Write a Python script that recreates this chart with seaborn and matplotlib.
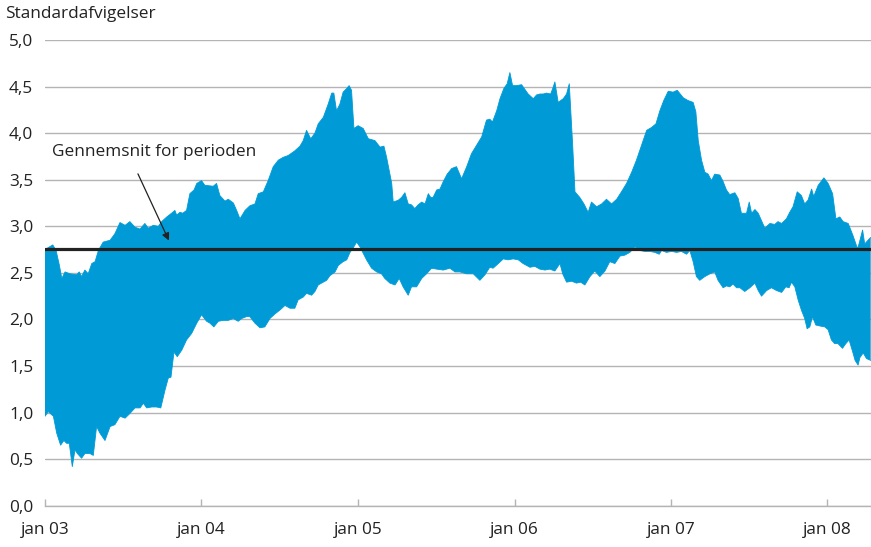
import matplotlib
matplotlib.use("Agg")
import matplotlib.pyplot as plt
import numpy as np
import pandas as pd
import seaborn as sns

# weeks after 1 Jan 2003 and the read-off band edges (standard deviations)
upper_weeks = [
    0, 2.6, 3.7, 4.8, 5.6, 6.7, 8.3, 10.6, 11.4, 12.2, 13.3, 14.4, 15.6, 16.7,
    17.8, 19.4, 21.7, 23.3, 25.0, 26.7, 28.3, 30.0, 31.7, 33.3, 34.4, 36.1,
    37.8, 38.9, 40.6, 42.2, 43.3, 43.9, 45.0, 45.9, 47.2, 48.3, 49.7, 50.6,
    52.2, 53.3, 56.1, 57.2, 58.3, 60.0, 61.1, 62.8, 63.9, 65.0, 66.7, 68.3,
    70.0, 71.1, 72.8, 74.4, 76.1, 77.8, 79.4, 81.1, 83.3, 85.0, 86.1, 87.2,
    88.6, 90.0, 91.1, 92.8, 94.4, 95.6, 96.3, 97.2, 98.3, 99.4, 100.6, 101.4,
    102.2, 103.0, 104.4, 106.1, 107.8, 110.0, 111.7, 113.0, 113.9, 115.0,
    115.6, 116.1, 117.8, 118.9, 120.0, 121.1, 122.2, 123.3, 124.4, 125.6,
    126.7, 127.8, 128.6, 129.4, 130.6, 131.7, 132.8, 134.1, 135.6, 137.2,
    138.9, 140.6, 142.2, 143.9, 145.6, 147.2, 148.3, 149.2, 150.6, 151.7,
    153.0, 154.1, 155.0, 155.9, 157.2, 158.9, 161.1, 162.8, 163.9, 165.0,
    166.1, 167.2, 168.6, 169.4, 170.0, 171.1, 172.8, 173.9, 174.8, 175.9,
    176.7, 178.3, 179.7, 181.1, 182.2, 183.9, 185.6, 187.2, 188.9, 190.6,
    192.2, 193.9, 195.6, 197.2, 198.9, 200.6, 202.2, 203.7, 205.0, 206.3,
    207.8, 209.4, 210.8, 212.8, 214.4, 216.1, 217.0, 217.8, 218.9, 220.0,
    221.1, 222.2, 223.3, 225.0, 226.1, 227.2, 228.3, 230.0, 231.1, 232.2,
    233.9, 234.8, 235.6, 236.7, 237.8, 238.9, 240.0, 241.7, 243.3, 244.4,
    245.6, 247.2, 248.3, 249.4, 250.8, 252.2, 253.3, 254.4, 255.6, 256.3,
    257.8, 259.7, 261.1, 262.6, 263.7, 265.0, 266.1, 267.8, 269.4, 270.9,
    271.4, 272.6, 273.3, 274.4, 275.3,
]
upper_values = [
    2.75, 2.80, 2.74, 2.58, 2.44, 2.51, 2.49, 2.48, 2.51, 2.46, 2.53, 2.49,
    2.60, 2.62, 2.74, 2.83, 2.85, 2.92, 3.04, 3.01, 3.05, 2.99, 2.97, 3.03,
    2.98, 3.01, 3.00, 3.05, 3.10, 3.14, 3.17, 3.12, 3.15, 3.14, 3.17, 3.35,
    3.39, 3.46, 3.49, 3.44, 3.43, 3.46, 3.33, 3.27, 3.29, 3.25, 3.17, 3.08,
    3.17, 3.22, 3.24, 3.35, 3.37, 3.49, 3.64, 3.71, 3.74, 3.76, 3.81, 3.86,
    3.92, 4.03, 3.94, 4.00, 4.10, 4.17, 4.31, 4.43, 4.43, 4.24, 4.31, 4.44,
    4.48, 4.51, 4.46, 4.05, 4.08, 4.05, 3.94, 3.92, 3.85, 3.86, 3.74, 3.56,
    3.46, 3.26, 3.28, 3.31, 3.36, 3.24, 3.23, 3.19, 3.23, 3.26, 3.24, 3.35,
    3.31, 3.31, 3.39, 3.40, 3.48, 3.56, 3.62, 3.64, 3.51, 3.64, 3.78, 3.87,
    3.96, 4.14, 4.15, 4.12, 4.24, 4.37, 4.48, 4.53, 4.65, 4.51, 4.51, 4.52,
    4.42, 4.37, 4.41, 4.42, 4.42, 4.43, 4.42, 4.49, 4.55, 4.33, 4.37, 4.42,
    4.53, 3.89, 3.37, 3.31, 3.24, 3.15, 3.26, 3.21, 3.24, 3.29, 3.24, 3.29,
    3.37, 3.46, 3.58, 3.71, 3.87, 4.03, 4.06, 4.10, 4.24, 4.35, 4.45, 4.44,
    4.46, 4.38, 4.35, 4.33, 4.23, 3.92, 3.71, 3.58, 3.56, 3.49, 3.56, 3.55,
    3.48, 3.39, 3.34, 3.36, 3.30, 3.14, 3.14, 3.26, 3.14, 3.18, 3.14, 3.06,
    2.98, 3.03, 3.02, 3.05, 3.03, 3.08, 3.15, 3.21, 3.37, 3.33, 3.24, 3.28,
    3.40, 3.32, 3.44, 3.52, 3.46, 3.35, 3.08, 3.10, 3.05, 3.03, 2.90, 2.76,
    2.81, 2.96, 2.81, 2.85, 2.88,
]

lower_weeks = [
    0, 1.1, 2.8, 3.9, 5.2, 6.3, 7.2, 8.1, 9.1, 10.0, 10.8, 12.2, 13.3, 15.0,
    16.1, 17.2, 18.3, 20.0, 21.7, 23.3, 25.0, 26.7, 28.3, 30.0, 31.7, 32.8,
    33.9, 35.6, 37.2, 38.6, 40.0, 41.1, 42.0, 43.0, 44.1, 45.6, 47.2, 48.9,
    50.6, 52.2, 53.9, 55.0, 56.3, 57.8, 59.4, 61.1, 62.8, 64.4, 65.6, 67.2,
    68.3, 70.0, 71.7, 73.3, 75.0, 76.7, 78.3, 80.0, 81.7, 83.3, 84.4, 86.1,
    87.2, 88.9, 90.0, 91.1, 92.2, 93.9, 95.0, 96.7, 97.8, 99.4, 100.6, 101.7,
    102.8, 103.9, 105.0, 106.1, 107.2, 108.9, 110.6, 112.2, 113.3, 115.0,
    116.7, 118.1, 119.4, 121.1, 122.2, 123.9, 125.6, 127.2, 128.9, 130.6,
    132.8, 135.0, 136.7, 138.3, 140.6, 142.8, 145.0, 146.7, 148.3, 149.4,
    150.8, 152.8, 154.4, 156.1, 157.8, 159.4, 161.7, 163.3, 165.0, 166.7,
    168.3, 170.0, 171.7, 172.6, 173.9, 175.6, 177.2, 178.6, 180.0, 181.7,
    183.3, 185.0, 186.7, 188.3, 190.0, 191.7, 193.3, 195.0, 196.7, 198.3,
    200.0, 201.7, 203.3, 204.8, 205.6, 207.2, 208.9, 210.6, 212.2, 213.9,
    215.0, 216.1, 217.2, 218.3, 220.0, 221.7, 223.3, 224.4, 226.1, 227.2,
    228.3, 229.4, 230.6, 231.7, 233.3, 235.0, 236.7, 237.8, 238.9, 240.6,
    242.2, 243.9, 245.6, 247.0, 248.1, 248.9, 250.0, 251.1, 252.2, 253.3,
    254.1, 255.0, 255.9, 257.0, 258.3, 260.0, 261.1, 262.2, 263.3, 264.4,
    265.9, 267.0, 268.1, 269.4, 270.1, 271.1, 271.7, 272.8, 273.9, 275.3,
]
lower_values = [
    0.96, 1.01, 0.96, 0.78, 0.65, 0.70, 0.67, 0.67, 0.42, 0.60, 0.56, 0.51,
    0.56, 0.56, 0.54, 0.85, 0.78, 0.70, 0.85, 0.87, 0.96, 0.94, 0.99, 1.05,
    1.05, 1.10, 1.05, 1.06, 1.06, 1.05, 1.24, 1.37, 1.38, 1.65, 1.60, 1.67,
    1.78, 1.85, 1.96, 2.05, 1.98, 1.96, 1.92, 1.98, 1.99, 1.99, 2.01, 1.98,
    2.01, 2.03, 2.03, 1.96, 1.91, 1.92, 2.01, 2.06, 2.10, 2.15, 2.12, 2.12,
    2.21, 2.24, 2.28, 2.26, 2.30, 2.37, 2.39, 2.42, 2.47, 2.51, 2.58, 2.62,
    2.64, 2.72, 2.77, 2.83, 2.78, 2.71, 2.64, 2.55, 2.51, 2.49, 2.44, 2.39,
    2.37, 2.44, 2.35, 2.26, 2.35, 2.35, 2.44, 2.49, 2.55, 2.54, 2.53, 2.55,
    2.51, 2.51, 2.49, 2.49, 2.42, 2.48, 2.56, 2.55, 2.59, 2.65, 2.64, 2.65,
    2.64, 2.60, 2.56, 2.57, 2.54, 2.53, 2.54, 2.52, 2.60, 2.49, 2.40, 2.41,
    2.39, 2.40, 2.37, 2.46, 2.52, 2.46, 2.52, 2.62, 2.60, 2.68, 2.69, 2.72,
    2.78, 2.74, 2.73, 2.73, 2.72, 2.70, 2.74, 2.72, 2.73, 2.72, 2.73, 2.70,
    2.74, 2.62, 2.46, 2.42, 2.46, 2.49, 2.51, 2.42, 2.34, 2.36, 2.35, 2.38,
    2.34, 2.34, 2.30, 2.34, 2.39, 2.31, 2.25, 2.31, 2.34, 2.31, 2.29, 2.35,
    2.34, 2.40, 2.35, 2.21, 2.10, 2.01, 1.90, 1.92, 2.03, 1.94, 1.93, 1.92,
    1.89, 1.78, 1.74, 1.74, 1.69, 1.74, 1.78, 1.64, 1.56, 1.51, 1.59, 1.64,
    1.58, 1.56,
]

period_mean = 2.76
x_ticks = ["2003-01-01", "2004-01-01", "2005-01-01", "2006-01-01",
           "2007-01-01", "2008-01-01"]
x_tick_labels = ["jan 03", "jan 04", "jan 05", "jan 06", "jan 07", "jan 08"]
y_ticks = [0.0, 0.5, 1.0, 1.5, 2.0, 2.5, 3.0, 3.5, 4.0, 4.5, 5.0]

start = pd.Timestamp("2003-01-01")


def to_dates(weeks):
    return start + pd.to_timedelta(np.asarray(weeks) * 7, unit="D")


upper = pd.DataFrame({"dato": to_dates(upper_weeks), "std": upper_values})
lower = pd.DataFrame({"dato": to_dates(lower_weeks), "std": lower_values})

sns.set_theme(style="white")
plt.rcParams["font.family"] = ["Open Sans", "DejaVu Sans"]

blue = "#009bd7"
grey = "#b4b4b4"
text_col = "#222222"
fs = 12.4

fig = plt.figure(figsize=(8.71, 5.47), dpi=100)
ax = fig.add_axes([45 / 871, 41.3 / 547, 826 / 871, 465.7 / 547])

# band as one polygon: upper edge forwards, lower edge backwards
ax.fill(
    np.concatenate([upper["dato"].values, lower["dato"].values[::-1]]),
    np.concatenate([upper["std"].values, lower["std"].values[::-1]]),
    color=blue, lw=0, zorder=2,
)
sns.lineplot(data=upper, x="dato", y="std", color=blue, lw=0.6, ax=ax, zorder=2)
sns.lineplot(data=lower, x="dato", y="std", color=blue, lw=0.6, ax=ax, zorder=2)

ax.axhline(period_mean, color=text_col, lw=2.3, zorder=3)

ax.set_ylim(0, 5)
ax.set_yticks(y_ticks)
ax.set_yticklabels([f"{v:.1f}".replace(".", ",") for v in y_ticks])
ax.set_xlim(start, to_dates([275.4])[0])
ax.set_xticks(pd.to_datetime(x_ticks))
ax.set_xticklabels(x_tick_labels)
ax.set_xlabel("")
ax.set_ylabel("")

ax.yaxis.grid(True, color=grey, lw=1.0, zorder=0)
ax.xaxis.grid(False)
for s in ["top", "right", "left"]:
    ax.spines[s].set_visible(False)
ax.spines["bottom"].set_color(grey)
ax.spines["bottom"].set_linewidth(1.0)
ax.tick_params(axis="x", direction="in", length=5, width=1, color=grey,
               labelsize=fs, labelcolor=text_col, pad=12, bottom=True)
ax.tick_params(axis="y", length=0, labelsize=fs, labelcolor=text_col, pad=8.5)

ax.text(to_dates([2.3])[0], 3.80, "Gennemsnit for perioden", fontsize=fs,
        color=text_col, ha="left", va="center")
ax.annotate("", xy=(to_dates([41.7])[0], 2.82),
            xytext=(to_dates([30.6])[0], 3.59),
            arrowprops=dict(arrowstyle="-|>", color=text_col, lw=0.9,
                            mutation_scale=11))

fig.text(5 / 871, 1 - 14 / 547, "Standardafvigelser", fontsize=fs,
         color=text_col, ha="left", va="center")

fig.savefig("out.png", dpi=100)
